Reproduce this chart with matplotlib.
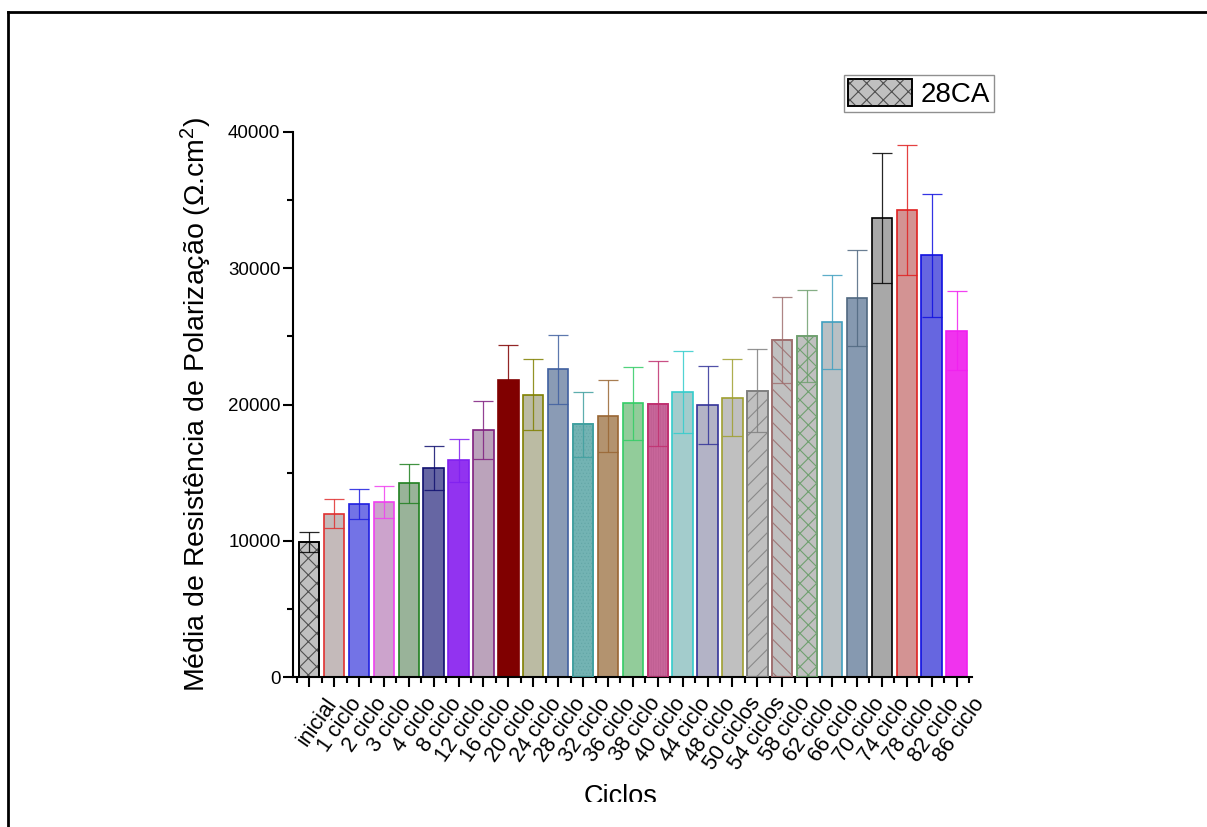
import matplotlib
matplotlib.use("Agg")
import matplotlib.pyplot as plt
from matplotlib.patches import Patch, Rectangle
from matplotlib.lines import Line2D
from matplotlib.legend_handler import HandlerTuple
from matplotlib.transforms import ScaledTranslation
from matplotlib.ticker import MultipleLocator, FixedLocator
import numpy as np

plt.rcParams['font.family'] = ['Liberation Sans', 'DejaVu Sans']
plt.rcParams['mathtext.fontset'] = 'custom'
plt.rcParams['mathtext.rm'] = 'Liberation Sans'
plt.rcParams['mathtext.it'] = 'Liberation Sans'
plt.rcParams['mathtext.default'] = 'regular'
plt.rcParams['hatch.linewidth'] = 0.8

# Polarization resistance per cycle (mean and standard deviation)
categories = ['inicial', '1 ciclo', '2 ciclo', '3 ciclo', '4 ciclo', '8 ciclo', '12 ciclo',
              '16 ciclo', '20 ciclo', '24 ciclo', '28 ciclo', '32 ciclo', '36 ciclo',
              '38 ciclo', '40 ciclo', '44 ciclo', '48 ciclo', '50 ciclos', '54 ciclos',
              '58 ciclo', '62 ciclo', '66 ciclo', '70 ciclo', '74 ciclo', '78 ciclo',
              '82 ciclo', '86 ciclo']
means = [9930, 11990, 12720, 12850, 14210, 15340, 15900, 18130, 21820, 20720, 22600,
         18540, 19180, 20080, 20040, 20920, 19960, 20500, 21000, 24750, 25040, 26060,
         27820, 33700, 34300, 30950, 25420]
errors = [730, 1080, 1100, 1190, 1430, 1590, 1600, 2130, 2570, 2590, 2530,
          2390, 2630, 2700, 3120, 2985, 2875, 2825, 3050, 3170, 3370, 3420,
          3490, 4790, 4775, 4500, 2920]
series_name = '28CA'

fills = ['#C0C0C0', '#C4BABA', '#7373E6', '#CCA3CC', '#99B399', '#6666A3', '#9233F0',
         '#BBA3BB', '#800000', '#BBBBA3', '#8A9BB5', '#73B3B3', '#B3936F', '#92CC9A',
         '#C8669A', '#A3CCCC', '#B3B3C6', '#C0C0C0', '#C0C0C0', '#C0C0C0', '#C0C0C0',
         '#B9C0C4', '#8699B0', '#A8A8A8', '#D39393', '#6666E0', '#F033EE']
edges = ['#000000', '#E03030', '#2020E0', '#F040F0', '#208020', '#101070', '#8020F0',
         '#802080', '#800000', '#808000', '#4060A0', '#40A0A0', '#996633', '#33CC66',
         '#C03070', '#33CCCC', '#333399', '#A0A030', '#808080', '#A07070', '#70A070',
         '#40A0C0', '#506880', '#000000', '#E02020', '#1010E0', '#F020F0']
# bar index -> (hatch pattern, hatch colour, hatch line width)
hatches = {0: ('xx', '#505050', 0.8), 11: ('.....', '#62A6A6', 0.4),
           14: ('|||||||', '#BA5A8E', 0.4), 18: ('//', '#8A8A8A', 0.8),
           19: ('\\\\', '#A07878', 0.8), 20: ('xx', '#70A070', 0.8)}

fig = plt.figure(figsize=(12.07, 8.27), dpi=100)
ax = fig.add_axes([293 / 1207, 1 - 677 / 827, (972 - 293) / 1207, (677 - 132) / 827])

x = np.arange(len(categories))
width = 0.82
ax.bar(x, means, width=width, color=fills, edgecolor=edges, linewidth=1.2, zorder=2)
for i, (h, hc, hlw) in hatches.items():
    with plt.rc_context({'hatch.linewidth': hlw}):
        ax.bar(x[i], means[i], width=width, fill=False, hatch=h, edgecolor=hc,
               linewidth=0, zorder=2.5)
    ax.bar(x[i], means[i], width=width, fill=False, edgecolor=edges[i],
           linewidth=1.2, zorder=2.6)
for i in range(len(categories)):
    ax.errorbar(x[i], means[i], yerr=errors[i], fmt='none', ecolor=edges[i],
                elinewidth=0.9, capsize=7, capthick=0.9, alpha=0.85, zorder=3)

ax.set_xlim(-0.65, len(categories) - 0.38)
ax.set_ylim(0, 40000)
for s in ['top', 'right']:
    ax.spines[s].set_visible(False)
for s in ['left', 'bottom']:
    ax.spines[s].set_linewidth(1.5)

ax.set_xticks(x)
ax.set_xticklabels(categories, rotation=55, ha='right', va='top',
                   rotation_mode='anchor', fontsize=15.5)
ax.xaxis.set_minor_locator(FixedLocator(np.arange(-0.5, len(categories), 1.0)))
ax.yaxis.set_major_locator(MultipleLocator(10000))
ax.yaxis.set_minor_locator(MultipleLocator(5000))
ax.tick_params(axis='both', which='major', direction='out', length=7, width=1.5,
               labelsize=13.5, pad=2)
ax.tick_params(axis='both', which='minor', direction='out', length=4, width=1.5)
ax.tick_params(axis='x', which='major', pad=5, labelsize=15.5)
offset = ScaledTranslation(0.15, 0, fig.dpi_scale_trans)
for lab in ax.get_xticklabels():
    lab.set_transform(lab.get_transform() + offset)

ax.set_ylabel('Média de Resistência de Polarização (Ω.cm$^2$)', fontsize=20.5)
ax.yaxis.set_label_coords(-0.117, 0.5)
ax.set_xlabel('Ciclos', fontsize=19.5)
ax.xaxis.set_label_coords(0.482, -0.197)

face = Patch(facecolor=fills[0], edgecolor='#000000', linewidth=1.2)
hatch = Patch(facecolor='none', edgecolor='#505050', hatch='xx', linewidth=0)
outline = Patch(facecolor='none', edgecolor='#000000', linewidth=1.2)
leg = fig.legend([(face, hatch, outline)], [series_name],
                 handler_map={tuple: HandlerTuple(ndivide=1)},
                 loc='upper right', bbox_to_anchor=(994 / 1207, 1 - 75 / 827),
                 fontsize=20, handlelength=2.3, handleheight=1.1, handletextpad=0.3,
                 borderpad=0.15, borderaxespad=0, fancybox=False, framealpha=1)
leg.get_frame().set_edgecolor('#909090')
leg.get_frame().set_linewidth(1.0)

# page frame and the trimmed lower strip
fig.add_artist(Rectangle((10 / 1207, 0), 1, 25 / 827, transform=fig.transFigure,
                         facecolor='white', edgecolor='none', zorder=10))
fig.add_artist(Line2D([8.3 / 1207, 1], [1 - 11.7 / 827, 1 - 11.7 / 827],
                      transform=fig.transFigure, color='black', lw=2, zorder=11))
fig.add_artist(Line2D([8.3 / 1207, 8.3 / 1207], [0, 1 - 11.7 / 827],
                      transform=fig.transFigure, color='black', lw=2, zorder=11))

fig.savefig('out.png', dpi=100)
